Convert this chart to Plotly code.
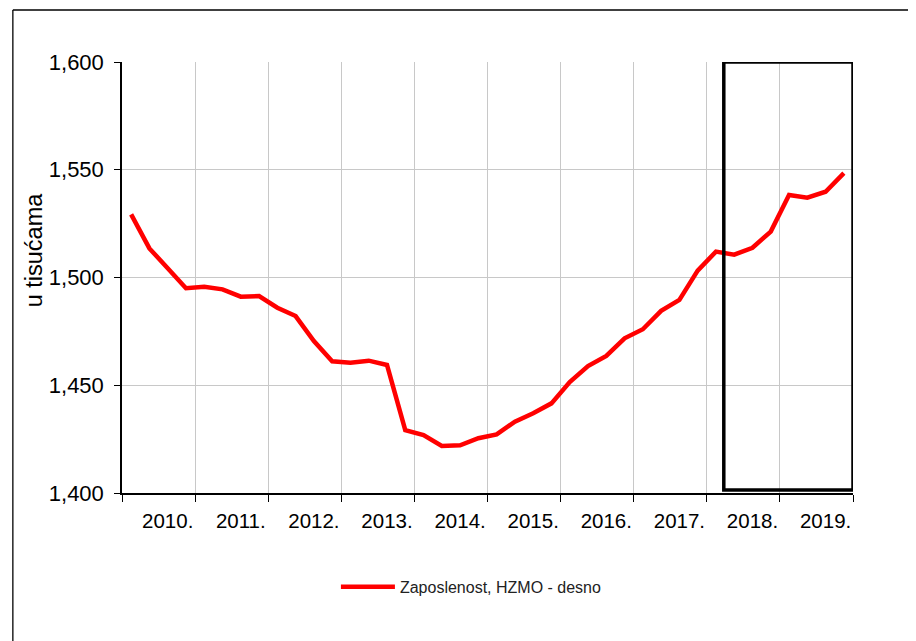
import plotly.graph_objects as go

years = ["2010.", "2011.", "2012.", "2013.", "2014.", "2015.", "2016.", "2017.", "2018.", "2019."]
quarters_per_year = 4
employment = [
    1529.3, 1513.5, 1504.3, 1495.0,
    1495.7, 1494.5, 1491.1, 1491.4,
    1486.0, 1482.1, 1470.5, 1461.1,
    1460.5, 1461.4, 1459.4, 1429.2,
    1426.9, 1421.8, 1422.1, 1425.4,
    1427.2, 1433.1, 1437.0, 1441.6,
    1451.5, 1458.9, 1463.6, 1471.8,
    1476.0, 1484.5, 1489.6, 1503.2,
    1512.0, 1510.6, 1513.8, 1521.3,
    1538.3, 1537.0, 1539.8, 1548.4,
]
series_name = "Zaposlenost, HZMO - desno"
y_title = "u tisućama"
y_ticks = [1400, 1450, 1500, 1550, 1600]

n = len(employment)
x_pos = [i + 0.5 for i in range(n)]
label_pos = [k * quarters_per_year + 2.5 for k in range(len(years))]
grid_pos = [k * quarters_per_year for k in range(len(years) + 1)]

FONT = "Liberation Sans, Arial, sans-serif"

fig = go.Figure()
fig.add_trace(go.Scatter(
    x=x_pos, y=employment, mode="lines", name=series_name,
    line=dict(color="#ff0000", width=4.5),
))

fig.update_layout(
    width=908, height=633,
    margin=dict(l=113.7, r=62.7, t=54, b=148),
    paper_bgcolor="white", plot_bgcolor="white",
    font=dict(family=FONT, color="black"),
    showlegend=True,
    legend=dict(
        orientation="h", x=0.478, xanchor="center", y=-0.218, yanchor="middle",
        font=dict(size=16, color="#222222", family=FONT),
        bgcolor="rgba(0,0,0,0)", itemwidth=54,
    ),
    xaxis=dict(
        range=[0, n], tickmode="array", tickvals=label_pos, ticktext=years,
        showgrid=False, ticks="", showline=True, linecolor="black", linewidth=1.5,
        tickfont=dict(size=20.5, family=FONT, color="black"), zeroline=False,
        ticklabelstandoff=9,
        minor=dict(tickmode="array", tickvals=grid_pos, showgrid=True,
                   gridcolor="#c8c8c8", gridwidth=1.3, ticks="outside",
                   ticklen=7, tickcolor="black", tickwidth=1.3),
        fixedrange=True,
    ),
    yaxis=dict(
        range=[1400, 1600], tickmode="array", tickvals=y_ticks,
        tickformat=",", showgrid=True, gridcolor="#c8c8c8", gridwidth=1.3,
        ticks="outside", ticklen=6, tickcolor="black", tickwidth=1.3,
        showline=True, linecolor="black", linewidth=1.5, zeroline=False,
        tickfont=dict(size=22, family=FONT, color="black"),
        ticklabelstandoff=6,
        fixedrange=True,
    ),
)

# y-axis title (placed off-centre, as in the original)
fig.add_annotation(text=y_title, xref="paper", yref="paper", x=-0.1199, y=0.5638,
                   xanchor="center", yanchor="middle", textangle=-90, showarrow=False,
                   font=dict(size=23.5, family=FONT, color="black"))

# highlighted box around the last period
fig.add_shape(type="rect", xref="x", yref="y", x0=32.93, x1=40.0, y0=1401.4, y1=1600,
              line=dict(color="black", width=3.5), fillcolor="rgba(0,0,0,0)", layer="above")

# outer frame (left and top edges visible)
fig.add_shape(type="line", xref="paper", yref="paper", x0=-0.1493, x1=1.2, y0=1.1206, y1=1.1206,
              line=dict(color="black", width=1.3))
fig.add_shape(type="line", xref="paper", yref="paper", x0=-0.1493, x1=-0.1493, y0=1.1206, y1=-0.4,
              line=dict(color="black", width=1.3))

fig.write_html("out.html")
